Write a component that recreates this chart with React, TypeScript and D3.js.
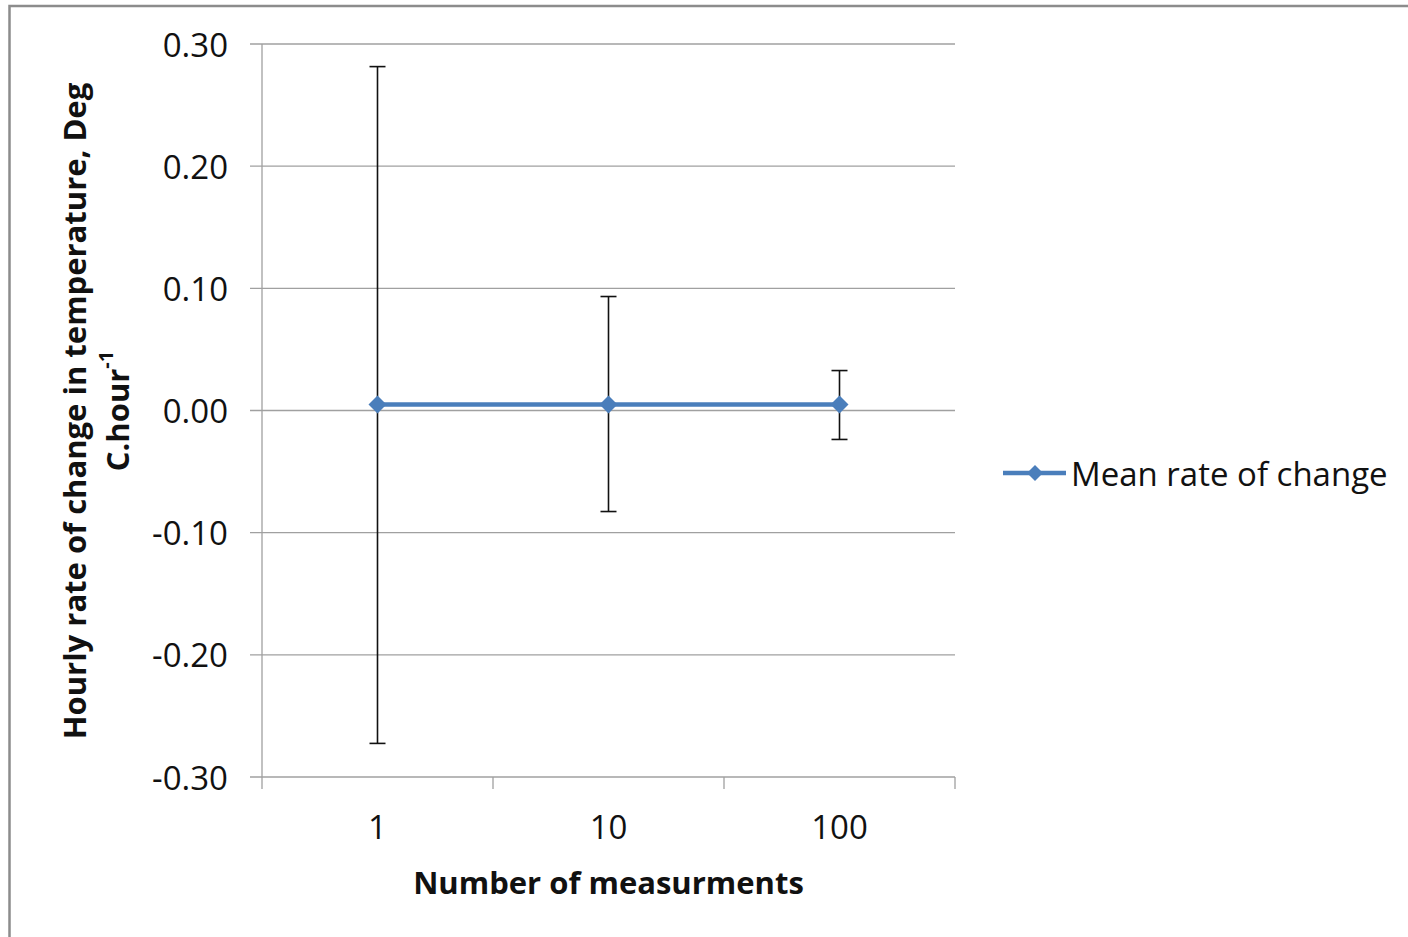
import React from "react";
import * as d3 from "d3";

// Number of measurements averaged per estimate
const categories = ["1", "10", "100"];
// Mean hourly rate of change (Deg C per hour)
const meanRate = [0.005, 0.005, 0.005];
// Upper / lower error bar ends
const upperBound = [0.2815, 0.0933, 0.0327];
const lowerBound = [-0.2725, -0.0827, -0.0237];
const yTicks = [-0.3, -0.2, -0.1, 0.0, 0.1, 0.2, 0.3];

const W = 1408;
const H = 937;
const plot = { left: 262, right: 955, top: 44, bottom: 777 };
const blue = "#4A7EBB";
const gridColor = "#A0A0A0";
const font = "'Open Sans', sans-serif";
const labelSize = 33;
const titleSize = 31;

// Excel-style tick labels with an ASCII hyphen for negatives
const fmt = (t: number) => d3.format(".2f")(t).replace("\u2212", "-");

export default function App() {
  const x = d3
    .scaleBand<string>()
    .domain(categories)
    .range([plot.left, plot.right])
    .paddingInner(0)
    .paddingOuter(0);
  const y = d3.scaleLinear().domain([-0.3, 0.3]).range([plot.bottom, plot.top]);
  const cx = (c: string) => (x(c) ?? 0) + x.bandwidth() / 2;

  const line = d3
    .line<number>()
    .x((_, i) => cx(categories[i]))
    .y((d) => y(d));

  const diamond = (px: number, py: number, r: number) =>
    `M${px},${py - r}L${px + r},${py}L${px},${py + r}L${px - r},${py}Z`;

  const bandEdges = [...categories.map((c) => x(c) ?? 0), plot.right];
  const legendY = 473;

  return (
    <svg
      width={W}
      height={H}
      style={{ position: "absolute", left: 0, top: 0, background: "#fff" }}
    >
      <rect x={0} y={0} width={W} height={H} fill="#fff" />
      {/* chart frame */}
      <rect x={9.5} y={6} width={W + 20} height={H + 20} fill="none" stroke="#8C8C8C" strokeWidth={2.5} />

      {/* horizontal gridlines and y ticks */}
      {yTicks.map((t) => (
        <g key={t}>
          <line x1={plot.left - 12} x2={plot.right} y1={y(t)} y2={y(t)} stroke={gridColor} strokeWidth={1.3} />
          <text
            x={228}
            y={y(t)}
            textAnchor="end"
            dominantBaseline="central"
            fontFamily={font}
            fontSize={labelSize}
            fill="#111"
          >
            {fmt(t)}
          </text>
        </g>
      ))}
      {/* y axis line */}
      <line x1={plot.left} x2={plot.left} y1={plot.top} y2={plot.bottom} stroke={gridColor} strokeWidth={1.3} />
      {/* x tick marks at category boundaries */}
      {bandEdges.map((e, i) => (
        <line key={i} x1={e} x2={e} y1={plot.bottom} y2={plot.bottom + 12} stroke={gridColor} strokeWidth={1.3} />
      ))}
      {categories.map((c) => (
        <text
          key={c}
          x={cx(c)}
          y={826}
          textAnchor="middle"
          dominantBaseline="central"
          fontFamily={font}
          fontSize={labelSize}
          fill="#111"
        >
          {c}
        </text>
      ))}

      {/* error bars */}
      {categories.map((c, i) => (
        <g key={c} stroke="#111" strokeWidth={1.6}>
          <line x1={cx(c)} x2={cx(c)} y1={y(upperBound[i])} y2={y(lowerBound[i])} />
          <line x1={cx(c) - 8} x2={cx(c) + 8} y1={y(upperBound[i])} y2={y(upperBound[i])} />
          <line x1={cx(c) - 8} x2={cx(c) + 8} y1={y(lowerBound[i])} y2={y(lowerBound[i])} />
        </g>
      ))}

      {/* mean series */}
      <path d={line(meanRate) ?? ""} fill="none" stroke={blue} strokeWidth={4.5} />
      {meanRate.map((v, i) => (
        <path key={i} d={diamond(cx(categories[i]), y(v), 9)} fill={blue} />
      ))}

      {/* axis titles */}
      <text
        x={cx("10")}
        y={882}
        textAnchor="middle"
        dominantBaseline="central"
        fontFamily={font}
        fontWeight="bold"
        fontSize={titleSize}
        fill="#111"
      >
        Number of measurments
      </text>
      <g transform={`translate(74, 411) rotate(-90)`}>
        <text textAnchor="middle" dominantBaseline="central" fontFamily={font} fontWeight="bold" fontSize={titleSize} fill="#111">
          Hourly rate of change in temperature, Deg
        </text>
      </g>
      <g transform={`translate(117, 411) rotate(-90)`}>
        <text textAnchor="middle" dominantBaseline="central" fontFamily={font} fontWeight="bold" fontSize={titleSize} fill="#111">
          C.hour
          <tspan fontSize={20} dy={-12}>-1</tspan>
        </text>
      </g>

      {/* legend */}
      <line x1={1003} x2={1066} y1={legendY} y2={legendY} stroke={blue} strokeWidth={4.5} />
      <path d={diamond(1035, legendY, 8)} fill={blue} />
      <text x={1071} y={legendY} dominantBaseline="central" fontFamily={font} fontSize={labelSize} fill="#111">
        Mean rate of change
      </text>
    </svg>
  );
}
